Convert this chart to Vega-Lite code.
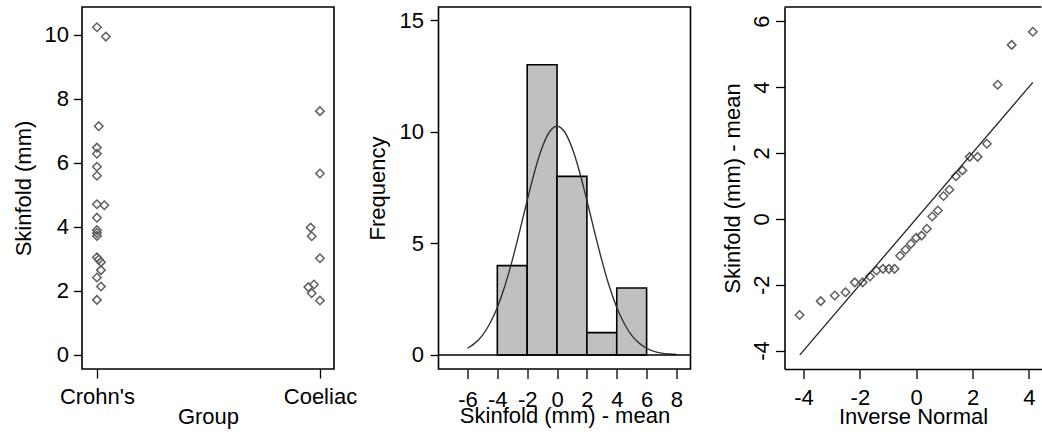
{
  "$schema": "https://vega.github.io/schema/vega-lite/v6.json",
  "padding": {"left": 11, "top": 6, "right": 0, "bottom": 0},
  "background": "white",
  "config": {
    "font": "Liberation Sans",
    "view": {"stroke": "black", "strokeWidth": 1.6},
    "axis": {
      "grid": false, "domain": false, "tickColor": "black", "tickWidth": 1.3,
      "labelFont": "Liberation Sans", "labelFontSize": 22, "labelColor": "black",
      "titleFont": "Liberation Sans", "titleFontSize": 22, "titleFontWeight": "normal", "titleColor": "black",
      "labelFlush": false, "labelOverlap": false
    }
  },
  "datasets": {
    "skin": [
      {"group": "Crohn's", "x_jit": 1.000, "skinfold": 10.24},
      {"group": "Crohn's", "x_jit": 1.040, "skinfold": 9.95},
      {"group": "Crohn's", "x_jit": 1.008, "skinfold": 7.15},
      {"group": "Crohn's", "x_jit": 1.000, "skinfold": 6.48},
      {"group": "Crohn's", "x_jit": 1.000, "skinfold": 6.29},
      {"group": "Crohn's", "x_jit": 1.000, "skinfold": 5.88},
      {"group": "Crohn's", "x_jit": 1.000, "skinfold": 5.60},
      {"group": "Crohn's", "x_jit": 1.000, "skinfold": 4.71},
      {"group": "Crohn's", "x_jit": 1.033, "skinfold": 4.68},
      {"group": "Crohn's", "x_jit": 1.000, "skinfold": 4.29},
      {"group": "Crohn's", "x_jit": 1.000, "skinfold": 3.90},
      {"group": "Crohn's", "x_jit": 1.000, "skinfold": 3.81},
      {"group": "Crohn's", "x_jit": 1.000, "skinfold": 3.72},
      {"group": "Crohn's", "x_jit": 1.000, "skinfold": 3.05},
      {"group": "Crohn's", "x_jit": 1.008, "skinfold": 2.98},
      {"group": "Crohn's", "x_jit": 1.018, "skinfold": 2.90},
      {"group": "Crohn's", "x_jit": 1.018, "skinfold": 2.65},
      {"group": "Crohn's", "x_jit": 1.000, "skinfold": 2.42},
      {"group": "Crohn's", "x_jit": 1.018, "skinfold": 2.14},
      {"group": "Crohn's", "x_jit": 1.000, "skinfold": 1.72},
      {"group": "Coeliac", "x_jit": 2.000, "skinfold": 7.62},
      {"group": "Coeliac", "x_jit": 2.000, "skinfold": 5.67},
      {"group": "Coeliac", "x_jit": 1.958, "skinfold": 3.98},
      {"group": "Coeliac", "x_jit": 1.963, "skinfold": 3.71},
      {"group": "Coeliac", "x_jit": 2.000, "skinfold": 3.02},
      {"group": "Coeliac", "x_jit": 1.973, "skinfold": 2.20},
      {"group": "Coeliac", "x_jit": 1.948, "skinfold": 2.12},
      {"group": "Coeliac", "x_jit": 1.963, "skinfold": 1.93},
      {"group": "Coeliac", "x_jit": 2.000, "skinfold": 1.70}
    ],
    "dev": [
      {"q": -4.14, "dev": -2.92}, {"q": -3.39, "dev": -2.50}, {"q": -2.89, "dev": -2.33},
      {"q": -2.51, "dev": -2.23}, {"q": -2.18, "dev": -1.93}, {"q": -1.90, "dev": -1.93},
      {"q": -1.64, "dev": -1.75}, {"q": -1.41, "dev": -1.57}, {"q": -1.18, "dev": -1.52},
      {"q": -0.97, "dev": -1.52}, {"q": -0.77, "dev": -1.52}, {"q": -0.57, "dev": -1.12},
      {"q": -0.38, "dev": -0.94}, {"q": -0.19, "dev": -0.76}, {"q": 0.00, "dev": -0.58},
      {"q": 0.19, "dev": -0.51}, {"q": 0.38, "dev": -0.30}, {"q": 0.57, "dev": 0.07},
      {"q": 0.77, "dev": 0.25}, {"q": 0.97, "dev": 0.69}, {"q": 1.18, "dev": 0.88},
      {"q": 1.41, "dev": 1.29}, {"q": 1.64, "dev": 1.47}, {"q": 1.90, "dev": 1.88},
      {"q": 2.18, "dev": 1.88}, {"q": 2.51, "dev": 2.28}, {"q": 2.89, "dev": 4.07},
      {"q": 3.39, "dev": 5.28}, {"q": 4.14, "dev": 5.68}
    ],
    "curve": [
      {"x": -6, "density": 0.30}, {"x": -5.5, "density": 0.53}, {"x": -5, "density": 0.88},
      {"x": -4.5, "density": 1.41}, {"x": -4, "density": 2.13}, {"x": -3.5, "density": 3.08},
      {"x": -3, "density": 4.24}, {"x": -2.5, "density": 5.55}, {"x": -2, "density": 6.92},
      {"x": -1.5, "density": 8.22}, {"x": -1, "density": 9.29}, {"x": -0.5, "density": 10.0},
      {"x": 0, "density": 10.25}, {"x": 0.5, "density": 10.0}, {"x": 1, "density": 9.29},
      {"x": 1.5, "density": 8.22}, {"x": 2, "density": 6.92}, {"x": 2.5, "density": 5.55},
      {"x": 3, "density": 4.24}, {"x": 3.5, "density": 3.08}, {"x": 4, "density": 2.13},
      {"x": 4.5, "density": 1.41}, {"x": 5, "density": 0.88}, {"x": 5.5, "density": 0.53},
      {"x": 6, "density": 0.30}, {"x": 6.5, "density": 0.16}, {"x": 7, "density": 0.08},
      {"x": 7.5, "density": 0.04}, {"x": 8, "density": 0.02}
    ],
    "qqline": [
      {"q": -4.13, "fit": -4.13},
      {"q": 4.14, "fit": 4.14}
    ]
  },
  "spacing": 28.5,
  "hconcat": [
    {
      "spacing": 6.5,
      "hconcat": [
        {
          "width": 252,
          "height": 362,
          "data": {"name": "skin"},
          "mark": {"type": "point", "shape": "diamond", "filled": false, "size": 72, "stroke": "#606060", "strokeWidth": 1.5, "opacity": 1},
          "encoding": {
            "x": {
              "field": "x_jit", "type": "quantitative",
              "scale": {"domain": [0.933, 2.063], "nice": false, "zero": false},
              "axis": {"values": [1, 2], "labelExpr": "datum.value == 1 ? \"Crohn's\" : \"Coeliac\"", "labelOverlap": false, "tickSize": 9, "labelPadding": 8, "titlePadding": -0.6, "title": "Group"}
            },
            "y": {
              "field": "skinfold", "type": "quantitative",
              "scale": {"domain": [-0.44, 10.875], "nice": false, "zero": false},
              "axis": {"values": [0, 2, 4, 6, 8, 10], "labelOverlap": false, "tickSize": 8.5, "labelPadding": 5, "titlePadding": 9, "title": "Skinfold (mm)"}
            }
          }
        },
        {
          "width": 252,
          "height": 362,
          "layer": [
            {
              "data": {"name": "dev"},
              "transform": [
                {"bin": {"extent": [-4, 6], "step": 2}, "field": "dev", "as": ["b0", "b1"]},
                {"aggregate": [{"op": "count", "as": "n"}], "groupby": ["b0", "b1"]}
              ],
              "mark": {"type": "bar", "fill": "#c0c0c0", "stroke": "black", "strokeWidth": 1.6},
              "encoding": {
                "x": {
                  "field": "b0", "type": "quantitative",
                  "scale": {"domain": [-7.94, 8.94], "nice": false, "zero": false},
                  "axis": {"values": [-6, -4, -2, 0, 2, 4, 6, 8], "labelExpr": "'' + datum.value", "labelOverlap": false, "tickSize": 9.4, "labelPadding": 11, "titlePadding": -4.5, "title": "Skinfold (mm) - mean"}
                },
                "x2": {"field": "b1"},
                "y": {
                  "field": "n", "type": "quantitative",
                  "scale": {"domain": [-0.63, 15.59], "nice": false, "zero": false},
                  "axis": {"values": [0, 5, 10, 15], "labelOverlap": false, "tickSize": 8.4, "labelPadding": 6.6, "titlePadding": 10, "title": "Frequency"}
                },
                "y2": {"datum": 0}
              }
            },
            {
              "data": {"name": "curve"},
              "mark": {"type": "line", "color": "#333333", "strokeWidth": 1.4, "interpolate": "monotone"},
              "encoding": {
                "x": {
                  "field": "x", "type": "quantitative",
                  "axis": {"values": [-6, -4, -2, 0, 2, 4, 6, 8], "labelExpr": "'' + datum.value", "labelOverlap": false, "tickSize": 9.4, "labelPadding": 11, "titlePadding": -4.5, "title": "Skinfold (mm) - mean"}
                },
                "y": {
                  "field": "density", "type": "quantitative",
                  "axis": {"values": [0, 5, 10, 15], "labelOverlap": false, "tickSize": 8.4, "labelPadding": 6.6, "titlePadding": 10, "title": "Frequency"}
                }
              }
            },
            {
              "data": {"values": [{}]},
              "mark": {"type": "rule", "color": "black", "strokeWidth": 1.6},
              "encoding": {
                "y": {
                  "datum": 0, "type": "quantitative",
                  "axis": {"values": [0, 5, 10, 15], "labelOverlap": false, "tickSize": 8.4, "labelPadding": 6.6, "titlePadding": 10, "title": "Frequency"}
                }
              }
            }
          ]
        }
      ]
    },
    {
      "width": 257,
      "height": 362,
      "view": {"stroke": null},
      "layer": [
        {
          "data": {"values": [{}]},
          "mark": {"type": "rule", "color": "black", "strokeWidth": 1.6},
          "encoding": {"y": {"datum": 6.43, "type": "quantitative", "title": "Skinfold (mm) - mean"}}
        },
        {
          "data": {"name": "dev"},
          "mark": {"type": "point", "shape": "diamond", "filled": false, "size": 72, "stroke": "#606060", "strokeWidth": 1.5, "opacity": 1},
          "encoding": {
            "x": {
              "field": "q", "type": "quantitative",
              "scale": {"domain": [-4.675, 4.448], "nice": false, "zero": false},
              "axis": {"values": [-4, -2, 0, 2, 4], "labelExpr": "'' + datum.value", "labelOverlap": false, "domain": true, "domainColor": "black", "domainWidth": 1.6, "tickSize": 9.4, "labelPadding": 9, "titlePadding": -2, "title": "Inverse Normal"}
            },
            "y": {
              "field": "dev", "type": "quantitative",
              "scale": {"domain": [-4.56, 6.43], "nice": false, "zero": false},
              "axis": {"values": [-4, -2, 0, 2, 4, 6], "labelExpr": "'' + datum.value", "labelOverlap": false, "labelAngle": -90, "labelAlign": "center", "labelBaseline": "bottom", "domain": true, "domainColor": "black", "domainWidth": 1.6, "tickSize": 9, "labelPadding": 2.5, "titlePadding": 5.5, "title": "Skinfold (mm) - mean"}
            }
          }
        },
        {
          "data": {"name": "qqline"},
          "mark": {"type": "line", "color": "#222222", "strokeWidth": 1.3},
          "encoding": {
            "x": {"field": "q", "type": "quantitative", "title": "Inverse Normal"},
            "y": {"field": "fit", "type": "quantitative", "title": "Skinfold (mm) - mean"}
          }
        }
      ]
    }
  ]
}
